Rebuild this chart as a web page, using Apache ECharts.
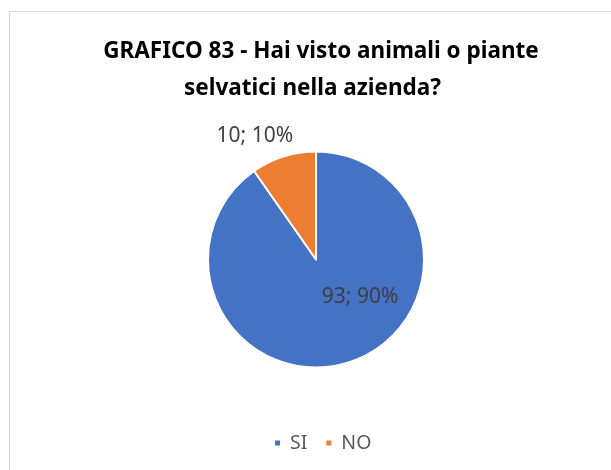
<!DOCTYPE html>
<html>
<head>
<meta charset="utf-8">
<script src="https://cdn.jsdelivr.net/npm/echarts@6/dist/echarts.min.js"></script>
<style>
html,body{margin:0;padding:0;background:#fff;}
#c{width:611px;height:470px;}
</style>
</head>
<body>
<div id="c"></div>
<script>
const categories = ["SI", "NO"];
const values = [93, 10];
const colors = ["#4472C4", "#ED7D31"];
const titleLines = ["GRAFICO 83 - Hai visto animali o piante", "selvatici nella azienda?"];

const labelShift = [[27, -17], [-44, -69]];

const titleStyle = {fontFamily: 'Noto Sans', fontWeight: 'bold', fontSize: 22.5, color: '#000'};

const chart = echarts.init(document.getElementById('c'), null, {renderer: 'canvas'});
chart.setOption({
  animation: false,
  backgroundColor: '#fff',
  graphic: [{
    type: 'rect',
    shape: {x: 9.5, y: 11.5, width: 700, height: 600},
    style: {fill: 'none', stroke: '#d9d9d9', lineWidth: 1}
  }],
  title: [{
    text: titleLines[0],
    left: 321,
    textAlign: 'center',
    top: 40,
    padding: 0,
    textStyle: titleStyle
  }, {
    text: titleLines[1],
    left: 312.5,
    textAlign: 'center',
    top: 77,
    padding: 0,
    textStyle: titleStyle
  }],
  legend: {
    bottom: 12,
    left: 268,
    itemWidth: 7,
    itemHeight: 7,
    itemGap: 17,
    icon: 'rect',
    textStyle: {fontFamily: 'Noto Sans', fontSize: 19.5, color: '#595959', padding: [0, 0, 0, 4]},
    data: categories
  },
  series: [{
    type: 'pie',
    center: [316, 259.5],
    radius: [0, 108],
    startAngle: 90,
    clockwise: true,
    color: colors,
    itemStyle: {borderColor: '#fff', borderWidth: 2},
    label: {
      show: true,
      position: 'inside',
      fontFamily: 'Noto Sans',
      fontSize: 21,
      color: '#404040',
      formatter: p => p.value + '; ' + Math.round(p.percent) + '%'
    },
    labelLine: {show: false},
    labelLayout: p => ({dx: labelShift[p.dataIndex][0], dy: labelShift[p.dataIndex][1]}),
    emphasis: {disabled: true},
    data: categories.map((c, i) => ({name: c, value: values[i]}))
  }]
});
</script>
</body>
</html>
